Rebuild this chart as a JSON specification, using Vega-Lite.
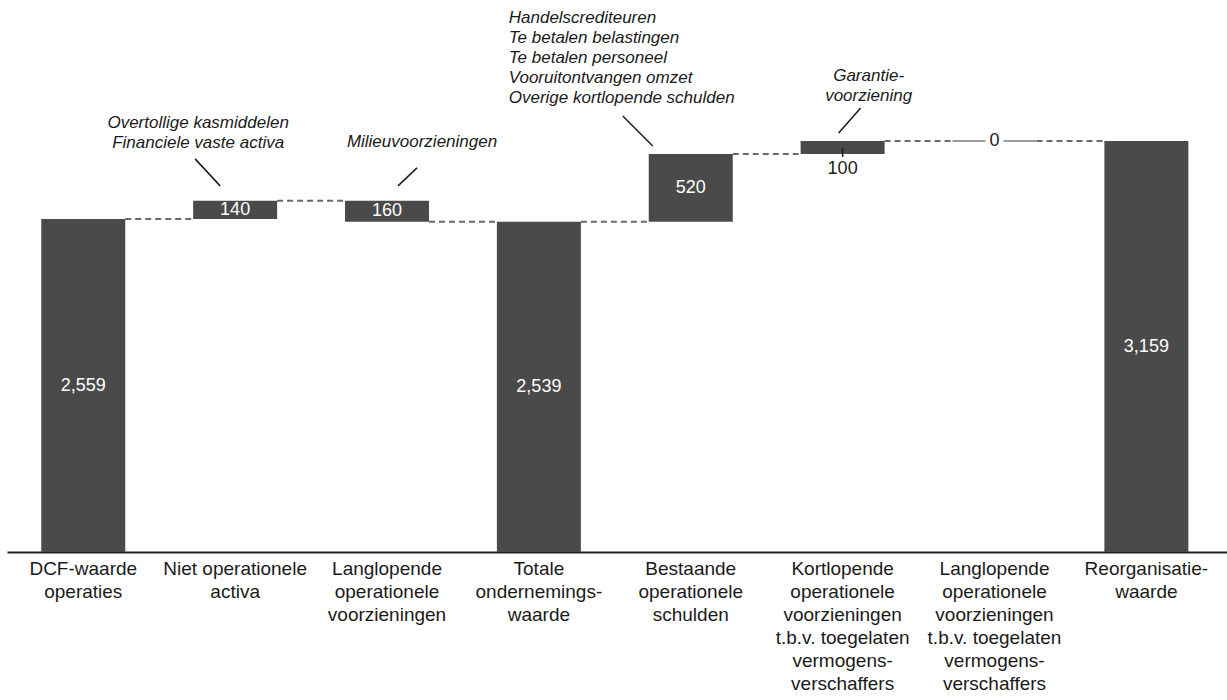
{
  "$schema": "https://vega.github.io/schema/vega-lite/v6.json",
  "width": 1220,
  "height": 552,
  "autosize": {"type": "none"},
  "padding": {"left": 7, "top": 0, "right": 0, "bottom": 148},
  "background": "white",
  "config": {"view": {"stroke": null}, "font": "Liberation Sans, Arial, sans-serif"},
  "data": {"values": [
    {"cat": "DCF-waarde|operaties", "start": 0, "end": 2559, "value": 2559, "next": "Niet operationele|activa", "note": ""},
    {"cat": "Niet operationele|activa", "start": 2559, "end": 2699, "value": 140, "next": "Langlopende|operationele|voorzieningen", "note": "Overtollige kasmiddelen|Financiele vaste activa"},
    {"cat": "Langlopende|operationele|voorzieningen", "start": 2699, "end": 2539, "value": 160, "next": "Totale|ondernemings-|waarde", "note": "Milieuvoorzieningen"},
    {"cat": "Totale|ondernemings-|waarde", "start": 0, "end": 2539, "value": 2539, "next": "Bestaande|operationele|schulden", "note": ""},
    {"cat": "Bestaande|operationele|schulden", "start": 2539, "end": 3059, "value": 520, "next": "Kortlopende|operationele|voorzieningen|t.b.v. toegelaten|vermogens-|verschaffers", "note": "Handelscrediteuren|Te betalen belastingen|Te betalen personeel|Vooruitontvangen omzet|Overige kortlopende schulden"},
    {"cat": "Kortlopende|operationele|voorzieningen|t.b.v. toegelaten|vermogens-|verschaffers", "start": 3059, "end": 3159, "value": 100, "next": "Langlopende|operationele|voorzieningen|t.b.v. toegelaten|vermogens-|verschaffers", "note": "Garantie-|voorziening"},
    {"cat": "Langlopende|operationele|voorzieningen|t.b.v. toegelaten|vermogens-|verschaffers", "start": 3159, "end": 3159, "value": 0, "next": "Reorganisatie-|waarde", "note": ""},
    {"cat": "Reorganisatie-|waarde", "start": 0, "end": 3159, "value": 3159, "next": null, "note": ""}
  ]},
  "transform": [
    {"calculate": "(datum.start + datum.end) / 2", "as": "mid"},
    {"calculate": "max(datum.start, datum.end)", "as": "hi"}
  ],
  "encoding": {
    "x": {
      "field": "cat", "type": "nominal", "sort": null, "title": null,
      "scale": {
        "domain": ["DCF-waarde|operaties", "Niet operationele|activa", "Langlopende|operationele|voorzieningen", "Totale|ondernemings-|waarde", "Bestaande|operationele|schulden", "Kortlopende|operationele|voorzieningen|t.b.v. toegelaten|vermogens-|verschaffers", "Langlopende|operationele|voorzieningen|t.b.v. toegelaten|vermogens-|verschaffers", "Reorganisatie-|waarde"],
        "paddingInner": 0.447, "paddingOuter": 0.24, "align": 0.47
      },
      "axis": {
        "domain": true, "domainColor": "#222222", "domainWidth": 2, "ticks": false,
        "labelAngle": 0, "labelFontSize": 19, "labelLineHeight": 23, "labelColor": "#1a1a1a",
        "labelPadding": 7, "labelBaseline": "top", "labelLimit": 400, "labelOverlap": false, "labelBound": false,
        "labelExpr": "split(datum.label, '|')", "grid": false
      }
    }
  },
  "layer": [
    {
      "transform": [{"filter": "datum.next != null"}],
      "mark": {"type": "rule", "color": "#6a6a6a", "strokeWidth": 2, "strokeDash": [6, 4]},
      "encoding": {
        "x": {"field": "cat", "type": "nominal", "sort": null, "bandPosition": 1},
        "x2": {"field": "next", "bandPosition": 0},
        "y": {"field": "end", "type": "quantitative", "scale": {"domain": [0, 4243], "nice": false, "zero": true}, "axis": null}
      }
    },
    {
      "mark": {"type": "bar", "color": "#4a4a4a"},
      "encoding": {
        "y": {"field": "start", "type": "quantitative", "scale": {"domain": [0, 4243], "nice": false, "zero": true}, "axis": null},
        "y2": {"field": "end"}
      }
    },
    {
      "transform": [{"filter": "datum.value == 0"}],
      "mark": {"type": "rule", "color": "#9a9a9a", "strokeWidth": 2},
      "encoding": {
        "x": {"field": "cat", "type": "nominal", "sort": null, "bandPosition": 0},
        "x2": {"field": "cat", "bandPosition": 1},
        "y": {"field": "end", "type": "quantitative"}
      }
    },
    {
      "transform": [{"filter": "datum.value == 0"}],
      "mark": {"type": "point", "shape": "square", "filled": true, "color": "white", "opacity": 1, "size": 330},
      "encoding": {"y": {"field": "end", "type": "quantitative"}}
    },
    {
      "transform": [{"filter": "datum.value >= 140"}],
      "mark": {"type": "text", "color": "white", "fontSize": 18, "baseline": "middle"},
      "encoding": {
        "y": {"field": "mid", "type": "quantitative"},
        "text": {"field": "value", "type": "quantitative", "format": ","}
      }
    },
    {
      "transform": [{"filter": "datum.value == 100"}],
      "mark": {"type": "rule", "color": "#1a1a1a", "strokeWidth": 1.5, "y2Offset": 3},
      "encoding": {
        "y": {"field": "mid", "type": "quantitative"},
        "y2": {"field": "start"}
      }
    },
    {
      "transform": [{"filter": "datum.value == 100"}],
      "mark": {"type": "text", "color": "#1a1a1a", "fontSize": 18, "baseline": "middle", "dy": 15},
      "encoding": {
        "y": {"field": "start", "type": "quantitative"},
        "text": {"field": "value", "type": "quantitative", "format": ","}
      }
    },
    {
      "transform": [{"filter": "datum.value == 0"}],
      "mark": {"type": "text", "color": "#1a1a1a", "fontSize": 18, "baseline": "middle"},
      "encoding": {
        "y": {"field": "end", "type": "quantitative"},
        "text": {"field": "value", "type": "quantitative", "format": ","}
      }
    },
    {
      "transform": [{"filter": "datum.value == 140"}],
      "mark": {"type": "rule", "color": "#1a1a1a", "strokeWidth": 1.5, "xOffset": -40, "yOffset": -42, "x2Offset": -15, "y2Offset": -15},
      "encoding": {
        "x2": {"field": "cat"},
        "y": {"field": "hi", "type": "quantitative"},
        "y2": {"field": "hi"}
      }
    },
    {
      "transform": [{"filter": "datum.value == 140"}],
      "mark": {"type": "text", "color": "#1a1a1a", "fontSize": 17, "fontStyle": "italic", "lineBreak": "|", "lineHeight": 20, "align": "center", "baseline": "top", "dx": -37, "dy": -86},
      "encoding": {
        "y": {"field": "hi", "type": "quantitative"},
        "text": {"field": "note", "type": "nominal"}
      }
    },
    {
      "transform": [{"filter": "datum.value == 160"}],
      "mark": {"type": "rule", "color": "#1a1a1a", "strokeWidth": 1.5, "xOffset": 30, "yOffset": -33, "x2Offset": 11, "y2Offset": -15},
      "encoding": {
        "x2": {"field": "cat"},
        "y": {"field": "hi", "type": "quantitative"},
        "y2": {"field": "hi"}
      }
    },
    {
      "transform": [{"filter": "datum.value == 160"}],
      "mark": {"type": "text", "color": "#1a1a1a", "fontSize": 17, "fontStyle": "italic", "lineBreak": "|", "lineHeight": 20, "align": "center", "baseline": "top", "dx": 35, "dy": -67},
      "encoding": {
        "y": {"field": "hi", "type": "quantitative"},
        "text": {"field": "note", "type": "nominal"}
      }
    },
    {
      "transform": [{"filter": "datum.value == 520"}],
      "mark": {"type": "rule", "color": "#1a1a1a", "strokeWidth": 1.5, "xOffset": -68, "yOffset": -38, "x2Offset": -38, "y2Offset": -8},
      "encoding": {
        "x2": {"field": "cat"},
        "y": {"field": "hi", "type": "quantitative"},
        "y2": {"field": "hi"}
      }
    },
    {
      "transform": [{"filter": "datum.value == 520"}],
      "mark": {"type": "text", "color": "#1a1a1a", "fontSize": 17, "fontStyle": "italic", "lineBreak": "|", "lineHeight": 20, "align": "left", "baseline": "top", "dx": -182, "dy": -144},
      "encoding": {
        "y": {"field": "hi", "type": "quantitative"},
        "text": {"field": "note", "type": "nominal"}
      }
    },
    {
      "transform": [{"filter": "datum.value == 100"}],
      "mark": {"type": "rule", "color": "#1a1a1a", "strokeWidth": 1.5, "xOffset": 18, "yOffset": -33, "x2Offset": -4, "y2Offset": -8},
      "encoding": {
        "x2": {"field": "cat"},
        "y": {"field": "hi", "type": "quantitative"},
        "y2": {"field": "hi"}
      }
    },
    {
      "transform": [{"filter": "datum.value == 100"}],
      "mark": {"type": "text", "color": "#1a1a1a", "fontSize": 17, "fontStyle": "italic", "lineBreak": "|", "lineHeight": 20, "align": "center", "baseline": "top", "dx": 26, "dy": -73},
      "encoding": {
        "y": {"field": "hi", "type": "quantitative"},
        "text": {"field": "note", "type": "nominal"}
      }
    }
  ]
}
